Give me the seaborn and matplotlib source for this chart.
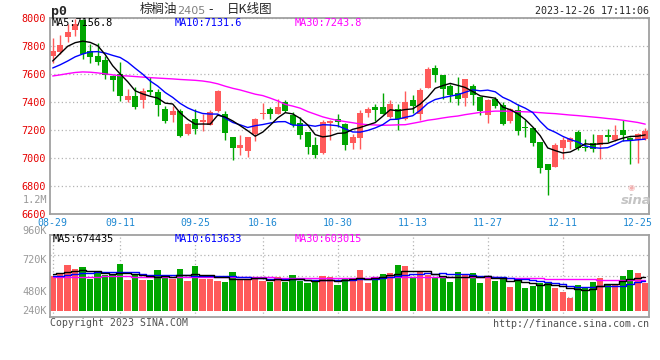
import numpy as np
import pandas as pd
import matplotlib
matplotlib.use("Agg")
import matplotlib.pyplot as plt
import seaborn as sns

# daily candles, 2023-08-29 .. 2023-12-26 (80 trading days)
OPEN = [7733, 7762, 7864, 7919, 7990, 7764, 7731, 7702, 7590, 7602,
        7417, 7445, 7414, 7488, 7474, 7355, 7312, 7336, 7174, 7283,
        7262, 7240, 7336, 7319, 7152, 7074, 7050, 7176, 7317, 7355,
        7319, 7402, 7307, 7252, 7188, 7093, 7038, 7252, 7283, 7248,
        7112, 7145, 7326, 7367, 7367, 7295, 7355, 7283, 7417, 7319,
        7502, 7645, 7593, 7517, 7467, 7431, 7517, 7438, 7312, 7421,
        7383, 7264, 7348, 7224, 7219, 7117, 6957, 6938, 7074, 7117,
        7188, 7081, 7110, 7093, 7164, 7129, 7200, 7145, 7129, 7140]
HIGH = [7857, 7883, 7962, 7993, 7998, 7815, 7824, 7731, 7592, 7688,
        7493, 7507, 7502, 7581, 7498, 7371, 7371, 7355, 7250, 7355,
        7314, 7345, 7486, 7336, 7155, 7164, 7155, 7286, 7398, 7367,
        7426, 7414, 7331, 7295, 7190, 7152, 7271, 7271, 7319, 7250,
        7176, 7343, 7367, 7390, 7469, 7414, 7388, 7481, 7455, 7502,
        7652, 7669, 7595, 7533, 7581, 7567, 7533, 7440, 7421, 7438,
        7402, 7362, 7390, 7276, 7222, 7119, 6962, 7110, 7152, 7152,
        7200, 7140, 7176, 7167, 7207, 7236, 7271, 7152, 7179, 7217]
LOW = [7679, 7743, 7833, 7874, 7712, 7683, 7664, 7569, 7481, 7410,
       7402, 7355, 7362, 7450, 7302, 7252, 7260, 7155, 7169, 7174,
       7193, 7235, 7331, 7133, 6986, 7021, 7010, 7121, 7283, 7283,
       7314, 7331, 7224, 7140, 7033, 7005, 7033, 7129, 7224, 7057,
       7069, 7069, 7295, 7264, 7317, 7288, 7205, 7271, 7326, 7276,
       7500, 7545, 7421, 7402, 7383, 7371, 7383, 7312, 7252, 7360,
       7236, 7255, 7169, 7150, 7088, 6898, 6736, 6936, 6993, 7069,
       7057, 7050, 7045, 6998, 7117, 7127, 7121, 6962, 6969, 7133]
CLOSE = [7767, 7812, 7905, 7960, 7743, 7721, 7690, 7593, 7560, 7445,
         7445, 7367, 7481, 7476, 7383, 7264, 7338, 7157, 7248, 7212,
         7272, 7331, 7479, 7181, 7074, 7098, 7152, 7283, 7326, 7319,
         7367, 7336, 7236, 7169, 7081, 7021, 7260, 7267, 7260, 7098,
         7152, 7324, 7355, 7348, 7319, 7388, 7283, 7402, 7374, 7488,
         7640, 7598, 7493, 7455, 7421, 7564, 7450, 7338, 7419, 7374,
         7248, 7355, 7193, 7214, 7110, 6933, 6919, 7098, 7129, 7145,
         7074, 7074, 7069, 7164, 7152, 7169, 7164, 7129, 7176, 7195]

MA5 = [7695, 7748, 7800, 7826, 7837, 7828, 7804, 7741, 7661, 7602,
       7547, 7482, 7460, 7443, 7430, 7394, 7388, 7324, 7278, 7244,
       7245, 7244, 7308, 7295, 7267, 7233, 7197, 7158, 7187, 7236,
       7289, 7326, 7317, 7285, 7238, 7169, 7153, 7160, 7178, 7181,
       7207, 7220, 7238, 7255, 7300, 7347, 7339, 7348, 7353, 7387,
       7437, 7500, 7519, 7535, 7521, 7506, 7477, 7446, 7438, 7429,
       7366, 7347, 7318, 7277, 7224, 7161, 7074, 7055, 7038, 7045,
       7073, 7104, 7098, 7105, 7107, 7126, 7144, 7156, 7158, 7167]
MA10 = [7645, 7668, 7695, 7725, 7745, 7760, 7762, 7752, 7735, 7720,
        7687, 7643, 7601, 7552, 7516, 7470, 7435, 7392, 7360, 7337,
        7320, 7316, 7316, 7287, 7256, 7239, 7220, 7233, 7241, 7252,
        7261, 7262, 7237, 7236, 7237, 7229, 7240, 7238, 7232, 7210,
        7188, 7187, 7199, 7217, 7240, 7277, 7279, 7293, 7304, 7343,
        7392, 7420, 7433, 7444, 7454, 7472, 7489, 7482, 7487, 7475,
        7436, 7412, 7382, 7358, 7327, 7263, 7210, 7186, 7157, 7134,
        7117, 7089, 7077, 7072, 7076, 7099, 7124, 7127, 7132, 7137]
MA30 = [7588, 7596, 7605, 7613, 7617, 7615, 7610, 7603, 7596, 7590,
        7588, 7584, 7580, 7576, 7573, 7570, 7567, 7563, 7560, 7557,
        7552, 7544, 7532, 7515, 7500, 7488, 7473, 7458, 7448, 7430,
        7410, 7385, 7373, 7358, 7334, 7315, 7296, 7282, 7271, 7262,
        7254, 7245, 7240, 7238, 7236, 7237, 7239, 7240, 7250, 7260,
        7272, 7279, 7288, 7296, 7302, 7312, 7320, 7328, 7333, 7337,
        7337, 7336, 7334, 7332, 7330, 7326, 7322, 7319, 7314, 7309,
        7305, 7300, 7295, 7290, 7284, 7279, 7272, 7264, 7256, 7244]

# volume in thousands of lots
VOLUME = [693, 739, 910, 827, 867, 634, 745, 703, 713, 926,
          615, 703, 615, 615, 808, 664, 640, 827, 595, 887,
          634, 634, 595, 567, 764, 630, 640, 646, 595, 575,
          666, 581, 705, 587, 548, 567, 693, 672, 516, 654,
          611, 808, 558, 656, 735, 755, 906, 887, 676, 762,
          709, 644, 676, 577, 762, 709, 755, 558, 676, 591,
          676, 479, 611, 459, 493, 546, 577, 459, 380, 262,
          512, 447, 565, 656, 512, 512, 695, 808, 743, 546]
VMA5 = [720, 745, 775, 790, 807, 795, 797, 755, 732, 744,
        740, 732, 714, 695, 671, 681, 668, 711, 707, 723,
        717, 715, 669, 663, 639, 638, 639, 649, 655, 617,
        624, 613, 624, 623, 617, 598, 620, 613, 599, 620,
        629, 652, 629, 657, 674, 702, 722, 788, 792, 797,
        788, 736, 693, 674, 674, 674, 696, 672, 692, 658,
        651, 596, 607, 563, 544, 518, 537, 507, 491, 445,
        438, 412, 433, 488, 538, 538, 588, 637, 654, 661]
VMA10 = [685, 695, 710, 725, 740, 752, 760, 765, 770, 776,
         768, 764, 735, 714, 708, 711, 700, 713, 701, 697,
         699, 692, 690, 685, 681, 677, 677, 659, 659, 628,
         631, 626, 637, 639, 617, 611, 616, 619, 611, 619,
         613, 636, 621, 628, 647, 666, 687, 709, 725, 735,
         745, 729, 741, 733, 735, 731, 716, 683, 683, 666,
         662, 646, 639, 628, 601, 584, 567, 557, 527, 494,
         478, 475, 470, 490, 492, 488, 500, 535, 571, 600]
VMA30 = [668, 668, 670, 672, 674, 676, 678, 680, 680, 680,
         680, 679, 678, 677, 676, 675, 674, 673, 672, 671,
         670, 669, 668, 667, 666, 665, 664, 663, 662, 660,
         658, 656, 655, 654, 653, 652, 652, 652, 652, 653,
         654, 656, 658, 660, 662, 664, 666, 668, 669, 670,
         670, 670, 669, 668, 667, 666, 665, 664, 662, 660,
         657, 654, 651, 648, 645, 642, 639, 636, 633, 630,
         627, 624, 621, 618, 615, 612, 610, 608, 606, 603]

DATE_LABELS = ["08-29", "09-11", "09-25", "10-16", "10-30",
               "11-13", "11-27", "12-11", "12-25"]
DATE_INDEX = [0, 9, 19, 28, 38, 48, 58, 68, 78]
PRICE_TICKS = [6600, 6800, 7000, 7200, 7400, 7600, 7800, 8000]
VOL_LABELS = ["960K", "720K", "480K", "240K"]
VOL_LABEL_Y = [231, 260, 292, 311]

W, H = 660, 360
RED, GREEN = "#ff5a5a", "#00a600"
MONO = "DejaVu Sans Mono"
GRID = dict(color="#b4b4b4", linestyle=(0, (1, 2)), linewidth=0.9)

sns.set_style("white")
plt.rcParams["font.family"] = [MONO, "Noto Sans CJK SC"]


def fx(x):
    return x / W


def fy(y):
    return 1 - y / H


df = pd.DataFrame({"i": np.arange(len(CLOSE)), "open": OPEN, "high": HIGH,
                   "low": LOW, "close": CLOSE, "ma5": MA5, "ma10": MA10,
                   "ma30": MA30, "vol": VOLUME, "vma5": VMA5,
                   "vma10": VMA10, "vma30": VMA30})
up = df["close"] >= df["open"]
colors = np.where(up, RED, GREEN)

fig = plt.figure(figsize=(W / 100, H / 100), dpi=100)
ax = fig.add_axes([fx(50), fy(214.3), 599 / W, 196 / H])
axv = fig.add_axes([fx(50), fy(317.3), 599 / W, 82.6 / H])

# price panel
ax.vlines(df["i"], df["low"], df["high"], colors=colors, linewidth=1, zorder=2)
body = np.maximum((df["close"] - df["open"]).abs(), 7)
ax.bar(df["i"], body, bottom=np.minimum(df["open"], df["close"]),
       width=0.76, color=colors, linewidth=0, zorder=2)
for col, c in [("ma30", "#ff00ff"), ("ma10", "#0000ff"), ("ma5", "black")]:
    sns.lineplot(data=df, x="i", y=col, ax=ax, color=c, linewidth=1, zorder=3)

# volume panel
axv.bar(df["i"], df["vol"], width=0.86, color=colors, linewidth=0, zorder=2)
for col, c in [("vma30", "#ff00ff"), ("vma10", "#0000ff"), ("vma5", "black")]:
    sns.lineplot(data=df, x="i", y=col, ax=axv, color=c, linewidth=1,
                 drawstyle="steps-mid", zorder=3)

for a in (ax, axv):
    a.set_xlim(-0.36, 79.5)
    a.set_xlabel("")
    a.set_ylabel("")
    a.set_axisbelow(True)
    a.set_xticks(DATE_INDEX[:-1], minor=True)
    a.grid(axis="x", which="minor", **GRID)
    a.grid(axis="y", which="major", **GRID)
    a.grid(axis="x", which="major", visible=False)
    for s in a.spines.values():
        s.set_color("#a0a0a0")
        s.set_linewidth(1.3)
    a.tick_params(which="both", length=0)

ax.set_ylim(6600, 8000)
ax.set_yticks(PRICE_TICKS)
ax.set_yticklabels([str(t) for t in PRICE_TICKS])
ax.tick_params(axis="y", pad=3, labelcolor="#e60000", labelsize=7.3)
ax.set_xticks(DATE_INDEX)
ax.set_xticklabels(DATE_LABELS)
ax.tick_params(axis="x", pad=3, labelcolor="#1e88d2", labelsize=7.1)

axv.set_ylim(-124, 1503)
axv.set_yticks(np.linspace(-124, 1503, 5)[1:4])
axv.set_yticklabels([])
axv.set_xticks([])

# header texts
fig.text(fx(51), fy(11), "p0", fontsize=9.5, fontweight="bold",
         va="center", ha="left", family=MONO)
fig.text(fx(140), fy(10), "棕榈油", fontsize=9, va="center", ha="left",
         family=["Noto Sans CJK SC"])
fig.text(fx(177.5), fy(10.5), "2405", fontsize=8, va="center", ha="left",
         color="#808080", family=["DejaVu Sans"])
fig.text(fx(208), fy(10), "-", fontsize=9, va="center", ha="left",
         family=["DejaVu Sans"])
fig.text(fx(227), fy(10), "日K线图", fontsize=9, va="center", ha="left",
         family=["Noto Sans CJK SC"])
fig.text(fx(649), fy(11.5), "2023-12-26 17:11:06", fontsize=7.2,
         va="center", ha="right")

fig.text(fx(52), fy(23.5), "MA5:7156.8", fontsize=7.4, va="center", color="black")
fig.text(fx(175), fy(23.5), "MA10:7131.6", fontsize=7.4, va="center", color="#0000ff")
fig.text(fx(295), fy(23.5), "MA30:7243.8", fontsize=7.4, va="center", color="#ff00ff")
fig.text(fx(53), fy(239), "MA5:674435", fontsize=7.4, va="center", color="black")
fig.text(fx(175), fy(239), "MA10:613633", fontsize=7.4, va="center", color="#0000ff")
fig.text(fx(295), fy(239), "MA30:603015", fontsize=7.4, va="center", color="#ff00ff")

fig.text(fx(47), fy(200), "1.2M", fontsize=7.4, va="center", ha="right", color="#999999")
for lab, y in zip(VOL_LABELS, VOL_LABEL_Y):
    fig.text(fx(47), fy(y), lab, fontsize=7.4, va="center", ha="right", color="#999999")

fig.text(fx(50), fy(323), "Copyright 2023 SINA.COM", fontsize=7.1,
         va="center", ha="left", color="#505050")
fig.text(fx(649), fy(324), "http://finance.sina.com.cn", fontsize=7.2,
         va="center", ha="right", color="#505050")

# sina watermark
fig.text(fx(631), fy(187), "◉", fontsize=6, va="center", ha="center",
         color="#f3b0b0", family=["DejaVu Sans"])
fig.text(fx(636), fy(200), "sina", fontsize=9.5, va="center", ha="center",
         color="#c4c4c4", style="italic", fontweight="bold", family=["DejaVu Sans"])

fig.savefig("out.png", dpi=100, facecolor="white")
